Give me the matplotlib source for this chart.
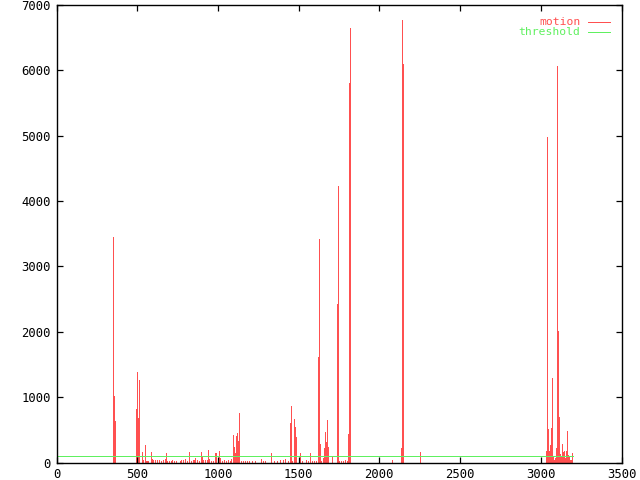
import matplotlib
matplotlib.use("Agg")
import matplotlib.pyplot as plt
import numpy as np

# motion data (frame, value)
frames = [0,
    352, 358, 364,
    494, 500, 507, 513, 531, 538, 550, 556, 563, 569,
    587, 594, 600, 612, 625, 637, 650, 662, 674, 680, 687, 699, 712, 718, 727, 740,
    764, 773, 786, 798, 810, 823, 832, 844, 852, 860, 872, 885, 897, 903, 909, 922,
    930, 940, 946, 959, 971, 984, 990, 1002, 1008, 1015, 1027, 1039, 1052, 1064,
    1076, 1082, 1095, 1101, 1107, 1113, 1120, 1126, 1132, 1144, 1157, 1170, 1181,
    1194, 1213, 1231, 1269, 1281, 1293, 1331, 1349, 1368, 1387, 1405, 1417, 1434,
    1447, 1453, 1459, 1471, 1477, 1483, 1508, 1521, 1545, 1558, 1570, 1583, 1595,
    1607, 1622, 1628, 1634, 1640, 1653, 1659, 1665, 1671, 1678, 1684, 1709, 1740,
    1746, 1752, 1764, 1777, 1789, 1801, 1808, 1814, 1820,
    2080, 2136, 2142, 2148, 2252,
    3034, 3040, 3047, 3053, 3059, 3065, 3071, 3078, 3084, 3090, 3096, 3102, 3109,
    3115, 3121, 3127, 3133, 3139, 3146, 3152, 3158, 3164, 3170, 3177, 3183, 3189,
    3195, 3200]
motion = [0,
    3450, 1020, 635,
    818, 1385, 680, 1262, 165, 38, 268, 28, 28, 20,
    160, 53, 38, 38, 38, 38, 30, 45, 53, 145, 30, 30, 30, 45, 30, 20,
    20, 38, 38, 53, 30, 160, 30, 45, 38, 68, 38, 30, 160, 100, 38, 38,
    45, 190, 53, 30, 30, 145, 145, 45, 176, 70, 30, 45, 30, 38,
    30, 53, 420, 237, 145, 405, 450, 330, 757, 30, 30, 30, 30,
    30, 30, 30, 53, 30, 30, 145, 30, 30, 38, 45, 53, 30,
    604, 865, 30, 666, 543, 390, 145, 30, 38, 30, 145, 30, 30,
    30, 1614, 3420, 283, 30, 76, 222, 467, 314, 650, 237, 100, 2425,
    4230, 30, 30, 30, 38, 30, 436, 5806, 6648,
    38, 222, 6770, 6098, 160,
    176, 4980, 513, 176, 268, 528, 1293, 84, 38, 69, 222, 6066, 2012,
    696, 130, 99, 283, 160, 176, 69, 176, 482, 115, 84, 38, 38,
    145, 0]
threshold = 100

x_ticks = [0, 500, 1000, 1500, 2000, 2500, 3000, 3500]
y_ticks = [0, 1000, 2000, 3000, 4000, 5000, 6000, 7000]

RED = "#ff5050"
GREEN = "#60f060"
FONT = "DejaVu Sans Mono"
LW = 0.72  # one pixel

fig = plt.figure(figsize=(6.4, 4.8), dpi=100)
ax = fig.add_axes([56.5/640, 1-462.5/480, 565/640, 457.5/480])

f = np.array(frames)
m = np.array(motion)
ax.vlines(f, 0, m, colors=RED, linewidth=LW, antialiased=False, zorder=1)
ax.plot([f[0], f[-1]], [0, 0], color=RED, lw=LW, zorder=1.5,
        solid_capstyle="butt", antialiased=False)
ax.plot([f[0], f[-1]], [threshold, threshold], color=GREEN, lw=LW, zorder=1.6,
        solid_capstyle="butt", antialiased=False)

ax.set_xlim(0, 3500)
ax.set_ylim(0, 7000)
ax.set_xticks(x_ticks)
ax.set_yticks(y_ticks)
ax.tick_params(direction="in", length=4, width=0.9, top=True, right=True,
               labelsize=8.8, pad=4)
for lab in ax.get_xticklabels() + ax.get_yticklabels():
    lab.set_fontfamily(FONT)
for s in ax.spines.values():
    s.set_linewidth(1.0)

# legend (gnuplot style, right-aligned text)
ax.text(0.927, 0.9635, "motion", color=RED, ha="right", va="center",
        transform=ax.transAxes, fontsize=8.2, family=FONT)
ax.plot([0.9407, 0.9796], [0.9635, 0.9635], color=RED, lw=LW,
        transform=ax.transAxes, antialiased=False)
ax.text(0.927, 0.9403, "threshold", color=GREEN, ha="right", va="center",
        transform=ax.transAxes, fontsize=8.2, family=FONT)
ax.plot([0.9407, 0.9796], [0.9403, 0.9403], color=GREEN, lw=LW,
        transform=ax.transAxes, antialiased=False)

fig.savefig("out.png", dpi=100)
